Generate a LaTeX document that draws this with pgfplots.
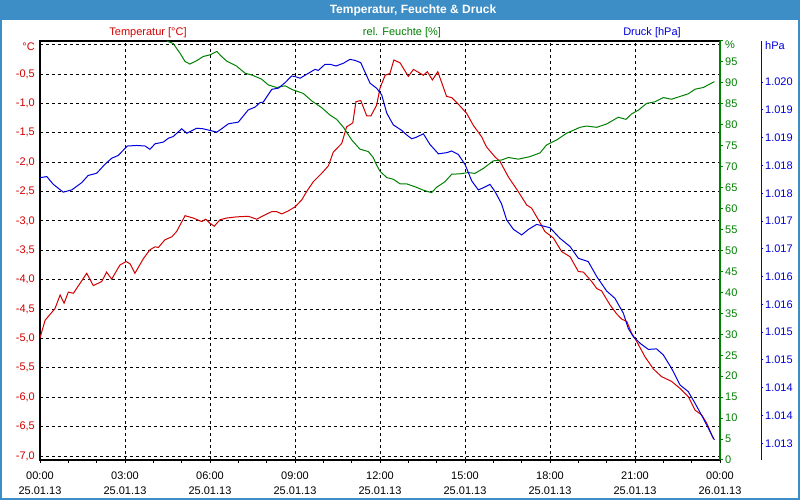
\documentclass[border=0pt]{standalone}
\usepackage{pgfplots}
\pgfplotsset{compat=1.18}
\usepackage{fontspec}
\setmainfont{Liberation Sans}
\definecolor{barblue}{RGB}{61,142,198}
\definecolor{tred}{RGB}{210,0,0}
\definecolor{hgreen}{RGB}{0,128,0}
\definecolor{pblue}{RGB}{0,0,220}
\pgfplotsset{
  base/.style={scale only axis, width=680pt, height=419pt, at={(40pt,40pt)}, anchor=south west, xmin=0, xmax=24},
  every tick label/.append style={font=\fontsize{11pt}{13pt}\selectfont},
}
\begin{document}
\begin{tikzpicture}[x=1pt,y=1pt,font=\fontsize{11pt}{13pt}\selectfont]
\fill[white] (0,0) rectangle (800,500);
\fill[barblue] (0,480) rectangle (800,500);
\fill[barblue] (0,0) rectangle (2,500);
\fill[barblue] (798,0) rectangle (800,500);
\fill[barblue] (0,0) rectangle (800,2);
\node[white, font=\fontsize{12pt}{14pt}\selectfont\bfseries] at (413,490) {Temperatur, Feuchte \& Druck};
\node[tred] at (148,467.5) {Temperatur [°C]};
\node[hgreen] at (402,467.5) {rel. Feuchte [\%]};
\node[pblue] at (652,467.5) {Druck [hPa]};
\node[pblue, anchor=west, inner sep=0pt] at (765,454) {hPa};

% temperature axis
\begin{axis}[base, ymin=-7.068, ymax=0.063,
  xtick={0,3,6,9,12,15,18,21,24}, minor xtick={0,1,...,24},
  xticklabels={{00:00\\25.01.13},{03:00\\25.01.13},{06:00\\25.01.13},{09:00\\25.01.13},{12:00\\25.01.13},{15:00\\25.01.13},{18:00\\25.01.13},{21:00\\25.01.13},{00:00\\26.01.13}},
  xticklabel style={align=center, font=\fontsize{11pt}{15pt}\selectfont, yshift=-5pt},
  ytick={-7,-6.5,-6,-5.5,-5,-4.5,-4,-3.5,-3,-2.5,-2,-1.5,-1,-0.5},
  yticklabels={{-7,0},{-6,5},{-6,0},{-5,5},{-5,0},{-4,5},{-4,0},{-3,5},{-3,0},{-2,5},{-2,0},{-1,5},{-1,0},{-0,5}},
  extra y ticks={0}, extra y tick labels={°C},
  extra y tick style={yticklabel style={yshift=-2pt}},
  yticklabel style={text=tred, inner xsep=2pt},
  xmajorgrids, ymajorgrids,
  major grid style={black, dash pattern=on 3pt off 3pt, line width=1pt},
  tick align=outside, xtick pos=left, ytick pos=left,
  major tick length=3pt, minor tick length=3pt,
  ytick style={draw=none},
  xtick style={black, line width=1pt},
  axis line style={black, line width=1.2pt},
]
\addplot[tred, line width=1pt] coordinates {(0.00,-4.99)(0.18,-4.69)(0.53,-4.49)(0.71,-4.26)(0.85,-4.40)(1.00,-4.21)(1.18,-4.23)(1.65,-3.89)(1.88,-4.10)(2.18,-4.03)(2.35,-3.87)(2.53,-3.99)(2.82,-3.75)(3.04,-3.69)(3.18,-3.73)(3.35,-3.89)(3.65,-3.64)(3.88,-3.49)(4.06,-3.44)(4.18,-3.45)(4.41,-3.32)(4.65,-3.27)(4.82,-3.18)(5.12,-2.91)(5.41,-2.95)(5.71,-3.01)(5.85,-2.97)(6.00,-3.04)(6.15,-3.09)(6.35,-2.98)(6.59,-2.95)(6.94,-2.93)(7.35,-2.92)(7.65,-2.97)(7.88,-2.91)(8.18,-2.84)(8.35,-2.84)(8.53,-2.88)(8.76,-2.83)(9.00,-2.76)(9.24,-2.64)(9.41,-2.50)(9.65,-2.33)(9.94,-2.19)(10.18,-2.06)(10.35,-1.83)(10.65,-1.68)(10.82,-1.40)(11.04,-1.33)(11.15,-0.97)(11.32,-0.95)(11.53,-1.21)(11.68,-1.21)(11.88,-1.03)(12.00,-0.74)(12.18,-0.52)(12.35,-0.49)(12.49,-0.26)(12.71,-0.31)(13.00,-0.54)(13.18,-0.42)(13.53,-0.52)(13.67,-0.46)(13.85,-0.60)(14.04,-0.46)(14.35,-0.88)(14.53,-0.90)(14.76,-1.01)(15.06,-1.17)(15.29,-1.37)(15.59,-1.57)(15.76,-1.74)(16.06,-1.91)(16.24,-1.99)(16.53,-2.25)(16.88,-2.50)(17.18,-2.73)(17.35,-2.78)(17.59,-2.98)(17.82,-3.18)(18.12,-3.29)(18.41,-3.52)(18.71,-3.61)(19.00,-3.86)(19.18,-3.87)(19.47,-4.03)(19.65,-4.15)(19.82,-4.19)(20.12,-4.43)(20.35,-4.58)(20.53,-4.67)(20.71,-4.71)(20.88,-4.91)(21.06,-5.05)(21.35,-5.31)(21.65,-5.52)(21.94,-5.65)(22.29,-5.73)(22.59,-5.85)(22.88,-5.99)(23.12,-6.22)(23.35,-6.30)(23.53,-6.44)(23.76,-6.70)};
\end{axis}

% humidity axis
\begin{axis}[base, ymin=0, ymax=100,
  axis x line=none, axis y line*=right,
  ytick={0,5,10,15,20,25,30,35,40,45,50,55,60,65,70,75,80,85,90,95},
  yticklabels={0,5,10,15,20,25,30,35,40,45,50,55,60,65,70,75,80,85,90,95},
  extra y ticks={100}, extra y tick labels={\%},
  extra y tick style={yticklabel style={yshift=-4pt}},
  yticklabel style={text=hgreen, inner xsep=2pt},
  tick align=outside, major tick length=3pt,
  ytick style={hgreen, line width=1pt},
  axis line style={hgreen, line width=1.5pt, -},
]
\addplot[hgreen, line width=1pt] coordinates {(4.47,100.0)(4.70,99.4)(4.94,97.1)(5.12,95.1)(5.29,94.5)(5.53,95.3)(5.76,96.3)(6.00,96.7)(6.24,97.5)(6.41,96.3)(6.59,95.2)(6.94,94.0)(7.24,92.3)(7.47,91.9)(7.82,90.9)(8.06,89.5)(8.35,88.9)(8.65,89.3)(8.94,88.3)(9.29,87.5)(9.59,85.7)(9.94,84.1)(10.24,82.3)(10.47,81.3)(10.71,79.4)(11.00,76.4)(11.29,74.2)(11.59,73.6)(11.76,72.2)(11.85,70.8)(12.00,68.9)(12.24,67.4)(12.47,67.0)(12.71,65.9)(12.94,65.9)(13.24,65.2)(13.53,64.4)(13.82,63.8)(14.00,65.1)(14.29,66.4)(14.53,68.2)(14.82,68.3)(15.12,68.6)(15.35,68.4)(15.65,69.6)(16.00,71.4)(16.29,71.6)(16.53,72.2)(16.88,71.8)(17.29,72.4)(17.65,73.3)(17.88,75.2)(18.24,76.4)(18.59,78.0)(19.06,79.4)(19.29,79.7)(19.65,79.4)(20.00,80.2)(20.41,81.8)(20.68,81.3)(20.88,82.6)(21.12,83.5)(21.41,85.1)(21.71,85.5)(22.00,86.5)(22.29,86.1)(22.65,86.9)(22.88,87.4)(23.12,88.5)(23.41,88.9)(23.80,90.3)};
\end{axis}

% pressure data axis
\begin{axis}[base, ymin=1013.20, ymax=1020.74, hide axis]
\addplot[pblue, line width=1pt] coordinates {(0.00,1018.28)(0.24,1018.30)(0.47,1018.16)(0.82,1018.02)(1.12,1018.06)(1.47,1018.19)(1.70,1018.32)(2.00,1018.36)(2.29,1018.52)(2.53,1018.63)(2.76,1018.68)(3.08,1018.85)(3.41,1018.86)(3.71,1018.85)(3.88,1018.79)(4.06,1018.89)(4.35,1018.92)(4.53,1018.99)(4.70,1019.02)(5.00,1019.16)(5.18,1019.08)(5.53,1019.17)(5.76,1019.16)(6.00,1019.13)(6.24,1019.10)(6.41,1019.16)(6.65,1019.25)(7.00,1019.28)(7.35,1019.50)(7.59,1019.55)(7.76,1019.63)(7.88,1019.64)(8.18,1019.87)(8.41,1019.89)(8.65,1019.99)(8.88,1020.11)(9.00,1020.10)(9.18,1020.07)(9.41,1020.14)(9.71,1020.23)(9.82,1020.21)(10.06,1020.32)(10.24,1020.32)(10.45,1020.29)(10.71,1020.34)(10.94,1020.41)(11.12,1020.39)(11.32,1020.35)(11.47,1020.18)(11.65,1019.98)(11.88,1019.89)(12.06,1019.77)(12.24,1019.44)(12.47,1019.23)(12.77,1019.13)(12.94,1019.05)(13.12,1018.98)(13.29,1019.01)(13.53,1019.07)(13.76,1018.88)(14.06,1018.71)(14.35,1018.73)(14.53,1018.76)(14.76,1018.70)(15.00,1018.52)(15.24,1018.22)(15.47,1018.06)(15.65,1018.10)(15.88,1018.16)(16.06,1018.03)(16.29,1017.81)(16.47,1017.52)(16.71,1017.35)(17.00,1017.25)(17.24,1017.35)(17.53,1017.44)(17.76,1017.41)(18.00,1017.38)(18.35,1017.19)(18.71,1017.04)(19.00,1016.83)(19.35,1016.77)(19.65,1016.50)(20.00,1016.24)(20.29,1016.11)(20.59,1015.84)(20.76,1015.57)(20.94,1015.42)(21.18,1015.30)(21.47,1015.19)(21.76,1015.20)(22.00,1015.09)(22.29,1014.85)(22.59,1014.55)(22.88,1014.43)(23.12,1014.22)(23.41,1013.95)(23.59,1013.77)(23.80,1013.56)};
\end{axis}

% pressure scale axis
\begin{axis}[scale only axis, width=1pt, height=419pt, at={(760pt,40pt)}, anchor=south west,
  xmin=0, xmax=1, ymin=1013.20, ymax=1020.74,
  axis x line=none, axis y line*=right,
  ytick={1013.5,1014,1014.5,1015,1015.5,1016,1016.5,1017,1017.5,1018,1018.5,1019,1019.5,1020},
  yticklabels={1.013,1.014,1.014,1.015,1.015,1.016,1.016,1.017,1.017,1.018,1.018,1.019,1.019,1.020},
  yticklabel style={text=pblue, inner xsep=2pt},
  tick align=outside, major tick length=2pt,
  ytick style={pblue, line width=1pt},
  axis line style={pblue, line width=1pt, -},
]
\end{axis}
\end{tikzpicture}
\end{document}
